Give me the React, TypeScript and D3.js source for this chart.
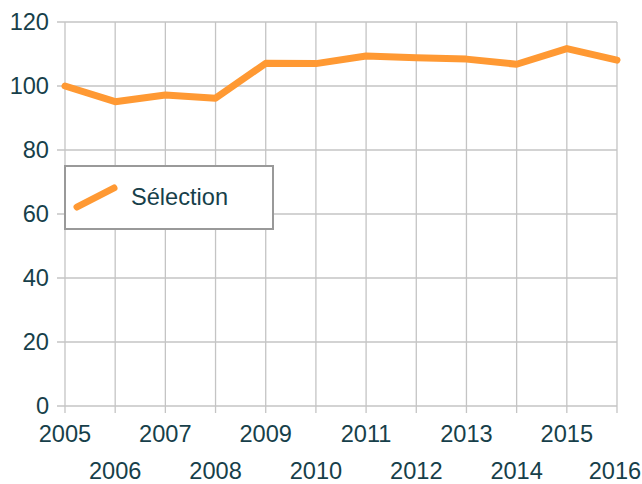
import React from "react";
import * as d3 from "d3";

const years = [2005, 2006, 2007, 2008, 2009, 2010, 2011, 2012, 2013, 2014, 2015, 2016];
const values = [100, 95.1, 97.2, 96.2, 107.1, 107.0, 109.4, 108.8, 108.4, 106.8, 111.7, 108.1];
const yTicks = [0, 20, 40, 60, 80, 100, 120];
const seriesName = "Sélection";

const W = 642;
const H = 484;
const M = { left: 65, right: 617, top: 22, bottom: 406 };
const textColor = "#173f4a";
const gridColor = "#c4c4c4";
const lineColor = "#ff9933";
const font = "'Liberation Sans', Arial, sans-serif";
const fs = 23.6;

export default function App() {
  const x = d3.scaleLinear().domain([years[0], years[years.length - 1]]).range([M.left, M.right]);
  const y = d3.scaleLinear().domain([0, 120]).range([M.bottom, M.top]);
  const line = d3
    .line<number>()
    .x((_, i) => x(years[i]))
    .y((d) => y(d));

  return (
    <svg
      width={W}
      height={H}
      style={{ position: "absolute", left: 0, top: 0, display: "block" }}
      fontFamily={font}
    >
      <rect x={0} y={0} width={W} height={H} fill="#fff" />
      {yTicks.map((t) => (
        <g key={"y" + t}>
          <line x1={57} x2={M.right} y1={y(t)} y2={y(t)} stroke={gridColor} strokeWidth={1.3} />
          <text x={49} y={y(t)} dy="0.36em" textAnchor="end" fontSize={fs} fill={textColor}>
            {t}
          </text>
        </g>
      ))}
      {years.map((yr, i) => (
        <g key={"x" + yr}>
          <line x1={x(yr)} x2={x(yr)} y1={M.top} y2={413} stroke={gridColor} strokeWidth={1.3} />
          <text
            x={i === years.length - 1 ? x(yr) - 2 : x(yr)}
            y={i % 2 === 0 ? 442 : 479}
            textAnchor="middle"
            fontSize={fs}
            fill={textColor}
          >
            {yr}
          </text>
        </g>
      ))}
      <path
        d={line(values) || ""}
        fill="none"
        stroke={lineColor}
        strokeWidth={7}
        strokeLinejoin="round"
        strokeLinecap="round"
      />
      <g>
        <rect x={65} y={166} width={208} height={63} fill="#fff" stroke="#999" strokeWidth={2} />
        <line x1={77} y1={207} x2={114} y2={188} stroke={lineColor} strokeWidth={7} strokeLinecap="round" />
        <text x={131} y={205} fontSize={fs} fill={textColor}>
          {seriesName}
        </text>
      </g>
    </svg>
  );
}
